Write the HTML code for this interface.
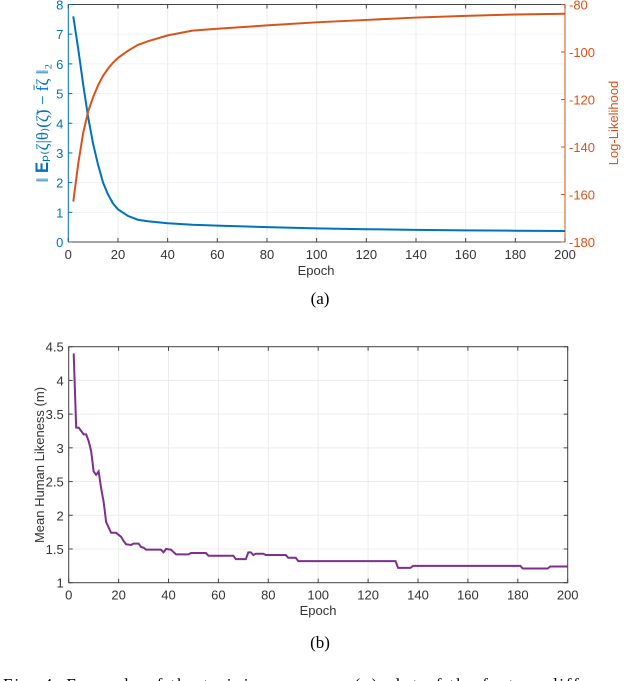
<!DOCTYPE html>
<html><head><meta charset="utf-8"><style>
body{margin:0;background:#fff;width:640px;height:681px;overflow:hidden;position:relative}
svg{position:absolute;left:0;top:0}
.t{font-family:"Liberation Sans",sans-serif;font-size:13px}
.s{font-family:"Liberation Serif",serif;font-size:17px}
</style></head><body>
<svg id="svg" width="640" height="681"></svg>
<script>
const epochsA=[2,4,6,8,10,12,14,16,18,20,24,28,32,40,50,60,80,100,120,140,160,180,200];
const featDiff=[7.6,6.5,5.3,4.2,3.3,2.6,2.0,1.6,1.3,1.1,0.88,0.75,0.7,0.63,0.58,0.55,0.5,0.46,0.43,0.41,0.39,0.38,0.37];
const logLik=[-163,-147,-134,-125,-119,-114,-110,-107,-104.5,-102.5,-99.5,-97,-95.5,-93,-91,-90.2,-88.8,-87.5,-86.5,-85.5,-84.8,-84.2,-83.9];
const epochsB=[2,3,4,5,6,7,8,9,10,11,12,13,14,15,16,17,19,21,22,23,25,26,28,29,30,31,37,38,39,41,43,48,49,55,56,66,67,71,72,73,74,75,78,79,87,88,91,92,131,132,137,138,181,182,192,193,200];
const likeness=[4.4,3.3,3.3,3.25,3.2,3.2,3.1,2.95,2.65,2.6,2.65,2.4,2.2,1.9,1.82,1.74,1.74,1.68,1.62,1.57,1.56,1.58,1.58,1.53,1.52,1.49,1.49,1.45,1.5,1.49,1.42,1.42,1.44,1.44,1.4,1.4,1.35,1.35,1.45,1.45,1.41,1.43,1.43,1.41,1.41,1.37,1.37,1.32,1.32,1.22,1.22,1.25,1.25,1.21,1.21,1.24,1.24];
const xTicks=[0,20,40,60,80,100,120,140,160,180,200];
const yTicksA=[0,1,2,3,4,5,6,7,8];
const yTicksR=[-180,-160,-140,-120,-100,-80];
const yTicksB=[1,1.5,2,2.5,3,3.5,4,4.5];

const svg=document.getElementById('svg');
const NS='http://www.w3.org/2000/svg';
function mk(tag,attrs,txt){const e=document.createElementNS(NS,tag);for(const k in attrs)e.setAttribute(k,attrs[k]);if(txt!=null)e.textContent=txt;svg.appendChild(e);return e;}

// Plot A
const A={x0:68.3,x1:565,y0:242,y1:4.5};
const axA=v=>A.x0+(v/200)*(A.x1-A.x0);
const ayA=v=>A.y0-(v/8)*(A.y0-A.y1);
const ayR=v=>A.y0-((v+180)/100)*(A.y0-A.y1);
for(const t of xTicks){const l=mk('line',{x1:axA(t),x2:axA(t),y1:A.y1,y2:A.y0,stroke:'#ececec'});}
for(const t of yTicksA){const l=mk('line',{x1:A.x0,x2:A.x1,y1:ayA(t),y2:ayA(t),stroke:'#eef2f7'});}
let e=mk('line',{x1:A.x0,x2:A.x1,y1:A.y0,y2:A.y0,stroke:'#444'});
e=mk('line',{x1:A.x0,x2:A.x1,y1:A.y1,y2:A.y1,stroke:'#444'});
e=mk('line',{x1:A.x0,x2:A.x0,y1:A.y1,y2:A.y0,stroke:'#0072BD'});
e=mk('line',{x1:A.x1,x2:A.x1,y1:A.y1,y2:A.y0,stroke:'#D95319'});
for(const t of xTicks){mk('line',{x1:axA(t),x2:axA(t),y1:A.y0,y2:A.y0-4,stroke:'#444'});mk('line',{x1:axA(t),x2:axA(t),y1:A.y1,y2:A.y1+4,stroke:'#444'});
 const tx=mk('text',{x:axA(t),y:A.y0+17,'text-anchor':'middle',class:'t',fill:'#333'},t);}
for(const t of yTicksA){mk('line',{x1:A.x0,x2:A.x0+4,y1:ayA(t),y2:ayA(t),stroke:'#0072BD'});
 const tx=mk('text',{x:A.x0-5,y:ayA(t)+5,'text-anchor':'end',class:'t',fill:'#0072BD'},t);}
for(const t of yTicksR){mk('line',{x1:A.x1-4,x2:A.x1,y1:ayR(t),y2:ayR(t),stroke:'#D95319'});
 const tx=mk('text',{x:A.x1+4,y:ayR(t)+5,'text-anchor':'start',class:'t',fill:'#D95319'},t);}
e=mk('polyline',{points:epochsA.map((x,i)=>axA(x)+','+ayA(featDiff[i])).join(' '),fill:'none',stroke:'#0072BD','stroke-width':2});
e=mk('polyline',{points:epochsA.map((x,i)=>axA(x)+','+ayR(logLik[i])).join(' '),fill:'none',stroke:'#D95319','stroke-width':2});
e=mk('text',{x:316,y:275,'text-anchor':'middle',class:'t',fill:'#333'},'Epoch');
e=mk('text',{x:0,y:0,transform:'translate(48,123) rotate(-90)','text-anchor':'middle',class:'s',fill:'#0072BD','font-size':'15'},'‖ 𝐄ₚ₍ζ|θ₎(ζ̃) − f̄ζ ‖₂');
e=mk('text',{x:0,y:0,transform:'translate(618,123) rotate(-90)','text-anchor':'middle',class:'t',fill:'#D95319'},'Log-Likelihood');
e=mk('text',{x:320,y:304,'text-anchor':'middle',class:'s',fill:'#000'},'(a)');

// Plot B
const B={x0:68.7,x1:567.7,y0:582.7,y1:346.7};
const axB=v=>B.x0+(v/200)*(B.x1-B.x0);
const ayB=v=>B.y0-((v-1)/3.5)*(B.y0-B.y1);
for(const t of xTicks){const l=mk('line',{x1:axB(t),x2:axB(t),y1:B.y1,y2:B.y0,stroke:'#ececec'});}
for(const t of yTicksB){const l=mk('line',{x1:B.x0,x2:B.x1,y1:ayB(t),y2:ayB(t),stroke:'#ececec'});}
e=mk('rect',{x:B.x0,y:B.y1,width:B.x1-B.x0,height:B.y0-B.y1,fill:'none',stroke:'#444'});
for(const t of xTicks){mk('line',{x1:axB(t),x2:axB(t),y1:B.y0,y2:B.y0-4,stroke:'#444'});mk('line',{x1:axB(t),x2:axB(t),y1:B.y1,y2:B.y1+4,stroke:'#444'});
 const tx=mk('text',{x:axB(t),y:B.y0+17,'text-anchor':'middle',class:'t',fill:'#333'},t);}
for(const t of yTicksB){mk('line',{x1:B.x0,x2:B.x0+4,y1:ayB(t),y2:ayB(t),stroke:'#444'});mk('line',{x1:B.x1-4,x2:B.x1,y1:ayB(t),y2:ayB(t),stroke:'#444'});
 const tx=mk('text',{x:B.x0-5,y:ayB(t)+5,'text-anchor':'end',class:'t',fill:'#333'},t);}
e=mk('polyline',{points:epochsB.map((x,i)=>axB(x)+','+ayB(likeness[i])).join(' '),fill:'none',stroke:'#7E2F8E','stroke-width':2});
e=mk('text',{x:318,y:615,'text-anchor':'middle',class:'t',fill:'#333'},'Epoch');
e=mk('text',{x:0,y:0,transform:'translate(44,465) rotate(-90)','text-anchor':'middle',class:'t',fill:'#333'},'Mean Human Likeness (m)');
e=mk('text',{x:320,y:648,'text-anchor':'middle',class:'s',fill:'#000'},'(b)');
e=mk('text',{x:3,y:690,class:'s',fill:'#000','font-size':'21',textLength:'668',lengthAdjust:'spacing'},'Fig. 4.  Example of the training process: (a) plot of the feature difference and');
</script>
</body></html>
